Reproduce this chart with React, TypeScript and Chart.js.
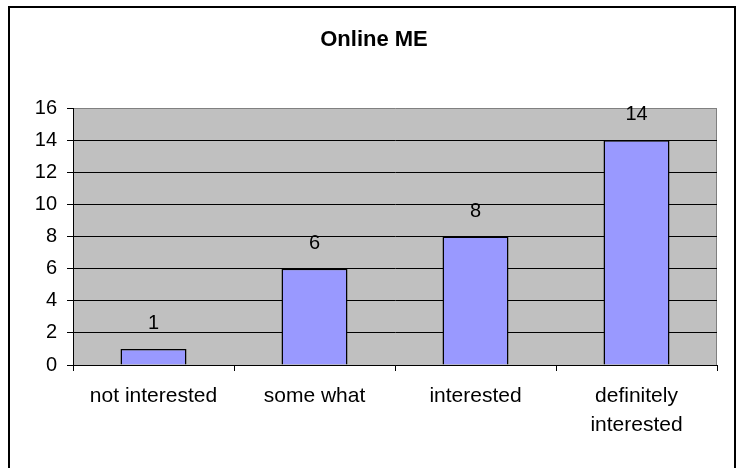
import React, { useEffect, useRef } from "react";
import { Chart, registerables } from "chart.js";

Chart.register(...registerables);

const categories: (string | string[])[] = [
  "not interested",
  "some what",
  "interested",
  ["definitely", "interested"],
];
const values: number[] = [1, 6, 8, 14];
const chartTitle = "Online ME";
const yMin = 0;
const yMax = 16;
const yStep = 2;

const FONT = "'Liberation Sans', Arial, sans-serif";

const framePlugin = {
  id: "frame",
  beforeDraw(chart: any) {
    const { ctx, chartArea } = chart;
    ctx.save();
    ctx.fillStyle = "#ffffff";
    ctx.fillRect(0, 0, chart.width, chart.height);
    ctx.fillStyle = "#C0C0C0";
    ctx.fillRect(chartArea.left, chartArea.top, chartArea.right - chartArea.left, chartArea.bottom - chartArea.top);
    ctx.strokeStyle = "#808080";
    ctx.lineWidth = 1;
    ctx.beginPath();
    ctx.moveTo(Math.round(chartArea.right) - 0.5, chartArea.top);
    ctx.lineTo(Math.round(chartArea.right) - 0.5, chartArea.bottom);
    ctx.stroke();
    ctx.restore();
  },
  afterDraw(chart: any) {
    const { ctx } = chart;
    ctx.save();
    ctx.strokeStyle = "#000000";
    ctx.lineWidth = 2;
    ctx.strokeRect(9, 7, 726, 470);
    ctx.fillStyle = "#000000";
    ctx.font = `bold 22px ${FONT}`;
    ctx.textAlign = "center";
    ctx.textBaseline = "alphabetic";
    ctx.fillText(chartTitle, 374, 46);
    ctx.restore();
  },
  afterDatasetsDraw(chart: any) {
    const { ctx } = chart;
    const meta = chart.getDatasetMeta(0);
    ctx.save();
    ctx.fillStyle = "#000000";
    ctx.font = `20px ${FONT}`;
    ctx.textAlign = "center";
    ctx.textBaseline = "alphabetic";
    meta.data.forEach((bar: any, i: number) => {
      ctx.fillText(String(values[i]), bar.x, bar.y - 20);
    });
    ctx.restore();
  },
};

export default function App() {
  const ref = useRef<HTMLCanvasElement | null>(null);
  useEffect(() => {
    if (!ref.current) return;
    const chart = new Chart(ref.current, {
      type: "bar",
      data: {
        labels: categories,
        datasets: [
          {
            data: values,
            backgroundColor: "#9999FF",
            borderColor: "#000000",
            borderWidth: 1.5,
            barPercentage: 0.41,
            categoryPercentage: 1,
          },
        ],
      },
      options: {
        responsive: false,
        animation: false,
        layout: { padding: { left: 0, top: 108, right: 26, bottom: 0 } },
        plugins: {
          legend: { display: false },
          title: { display: false },
          tooltip: { enabled: false },
        },
        scales: {
          x: {
            afterFit(scale: any) {
              scale.height = 103;
            },
            grid: {
              offset: true,
              drawOnChartArea: false,
              drawTicks: true,
              tickLength: 6,
              tickColor: "#000000",
            },
            border: { display: true, color: "#000000", width: 1 },
            ticks: {
              color: "#000000",
              font: { family: FONT, size: 21, lineHeight: 1.36 },
              padding: 11,
              maxRotation: 0,
              autoSkip: false,
            },
          },
          y: {
            min: yMin,
            max: yMax,
            afterFit(scale: any) {
              scale.width = 73;
            },
            grid: {
              color: (c: any) => (c.tick && c.tick.value === yMax ? "#808080" : "#000000"),
              lineWidth: 1,
              drawTicks: true,
              tickLength: 6,
              tickColor: "#000000",
            },
            border: { display: true, color: "#000000", width: 1 },
            ticks: {
              stepSize: yStep,
              color: "#000000",
              font: { family: FONT, size: 20 },
              padding: 10,
            },
          },
        },
      },
      plugins: [framePlugin],
    });
    return () => chart.destroy();
  }, []);
  return (
    <div style={{ position: "absolute", left: 0, top: 0, width: 743, height: 468 }}>
      <canvas ref={ref} width={743} height={468} style={{ display: "block" }} />
    </div>
  );
}
